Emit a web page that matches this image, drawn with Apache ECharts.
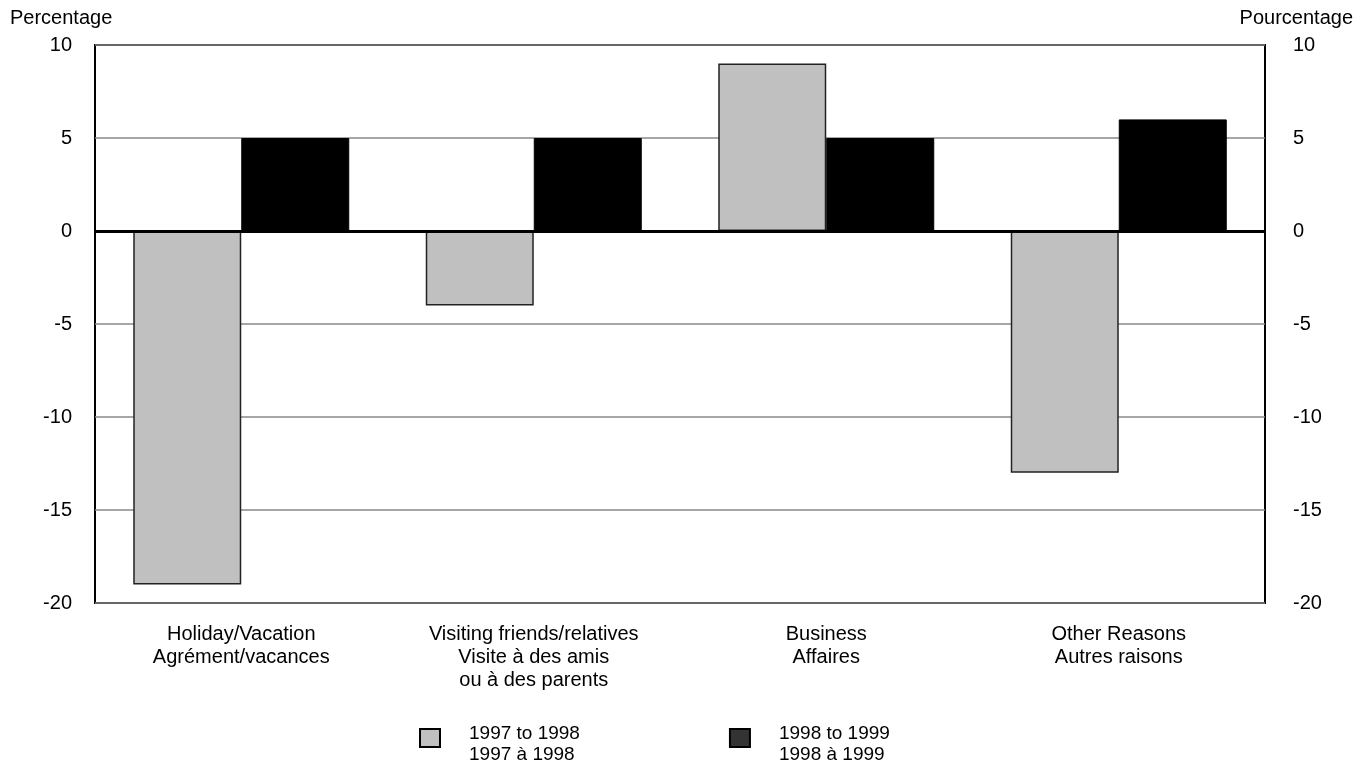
<!DOCTYPE html>
<html>
<head>
<meta charset="utf-8">
<script src="https://cdn.jsdelivr.net/npm/echarts@6/dist/echarts.min.js"></script>
<style>html,body{margin:0;padding:0;background:#fff;}#c{width:1369px;height:763px;}</style>
</head>
<body>
<div id="c"></div>
<script>
const categories = [
  "Holiday/Vacation\nAgrément/vacances",
  "Visiting friends/relatives\nVisite à des amis\nou à des parents",
  "Business\nAffaires",
  "Other Reasons\nAutres raisons"
];
const seriesNames = ["1997 to 1998\n1997 à 1998", "1998 to 1999\n1998 à 1999"];
const values9798 = [-19, -4, 9, -13];
const values9899 = [5, 5, 5, 6];
const axisNameLeft = "Percentage";
const axisNameRight = "Pourcentage";

const FONT = '"Liberation Sans", Arial, sans-serif';
const chart = echarts.init(document.getElementById('c'));
const yLabel = {color: '#000', fontSize: 20, fontFamily: FONT};
chart.setOption({
  animation: false,
  backgroundColor: '#fff',
  grid: {left: 95, right: 104, top: 45, bottom: 160, show: true, borderColor: '#000', borderWidth: 2, backgroundColor: 'transparent'},
  graphic: [
    {type: 'text', left: 10, top: 8, style: {text: axisNameLeft, font: '20px ' + FONT, fill: '#000'}},
    {type: 'text', right: 16, top: 8, style: {text: axisNameRight, font: '20px ' + FONT, fill: '#000'}}
  ],
  legend: {
    left: 419, top: 715, padding: 0, icon: 'rect', itemWidth: 20, itemHeight: 18, itemGap: 149,
    selectedMode: false,
    formatter: function (name) {
      return '{s| }\n' + name.split('\n').map(function (l) { return '{t|' + l + '}'; }).join('\n');
    },
    textStyle: {
      color: '#000', fontSize: 19, fontFamily: FONT, padding: [0, 0, 0, 24],
      rich: {
        s: {fontSize: 4, lineHeight: 12},
        t: {color: '#000', fontSize: 19, fontFamily: FONT, lineHeight: 21}
      }
    },
    data: [
      {name: seriesNames[0], itemStyle: {color: '#c0c0c0', borderColor: '#000', borderWidth: 2}},
      {name: seriesNames[1], itemStyle: {color: '#333', borderColor: '#000', borderWidth: 2}}
    ]
  },
  xAxis: {
    type: 'category', data: categories,
    axisLine: {show: false}, axisTick: {show: false}, splitLine: {show: false},
    axisLabel: {color: '#000', fontSize: 20, fontFamily: FONT, lineHeight: 23, margin: 20, interval: 0}
  },
  yAxis: [
    {
      type: 'value', min: -20, max: 10, interval: 5, position: 'left',
      axisLine: {show: false}, axisTick: {show: false},
      axisLabel: Object.assign({margin: 23}, yLabel),
      splitLine: {show: true, lineStyle: {color: '#888', width: 1.5}}
    },
    {
      type: 'value', min: -20, max: 10, interval: 5, position: 'right',
      axisLine: {show: false}, axisTick: {show: false},
      axisLabel: Object.assign({margin: 28}, yLabel),
      splitLine: {show: false}
    }
  ],
  series: [
    {
      name: seriesNames[0], type: 'bar', data: values9798, barWidth: 108, barGap: '0%',
      itemStyle: {color: '#c0c0c0', borderColor: '#222', borderWidth: 1.5},
      markLine: {
        silent: true, symbol: 'none', label: {show: false},
        lineStyle: {color: '#000', width: 3, type: 'solid'},
        data: [{yAxis: 0}], z: 10
      }
    },
    {
      name: seriesNames[1], type: 'bar', data: values9899, barWidth: 108,
      itemStyle: {color: '#000', borderColor: '#000', borderWidth: 1}
    }
  ]
});
</script>
</body>
</html>
